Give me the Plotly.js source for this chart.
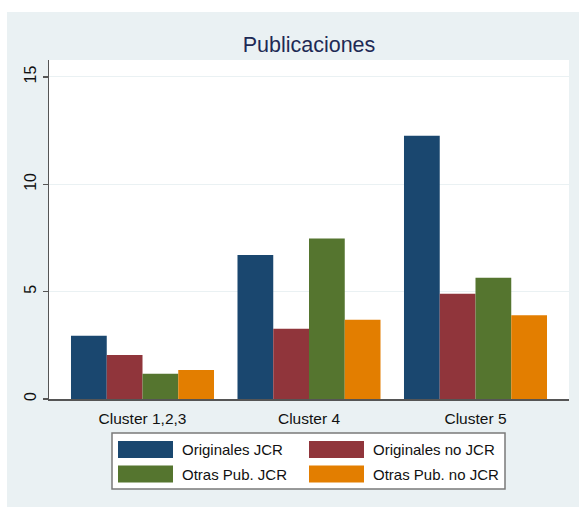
<!DOCTYPE html>
<html>
<head>
<meta charset="utf-8">
<script src="https://cdn.plot.ly/plotly-3.0.1.min.js"></script>
<style>html,body{margin:0;padding:0;background:#fff;overflow:hidden;}#chart{width:579px;height:507px;}</style>
</head>
<body>
<div id="chart"></div>
<script>
const categories = ['Cluster 1,2,3', 'Cluster 4', 'Cluster 5'];
const seriesNames = ['Originales JCR', 'Originales no JCR', 'Otras Pub. JCR', 'Otras Pub. no JCR'];
const originalesJCR = [2.95, 6.71, 12.26];
const originalesNoJCR = [2.05, 3.27, 4.9];
const otrasPubJCR = [1.18, 7.48, 5.65];
const otrasPubNoJCR = [1.35, 3.69, 3.9];
const yTicks = [0, 5, 10, 15];

const seriesValues = [originalesJCR, originalesNoJCR, otrasPubJCR, otrasPubNoJCR];
const colors = ['#1a476f', '#90353b', '#55752f', '#e37e00'];

const W = 579, H = 507;
const L = 49, R = 10, T = 60, B = 108;
const pw = W - L - R, ph = H - T - B;
const px = x => (x - L) / pw;
const py = y => (H - B - y) / ph;

const traces = seriesNames.map((n, i) => ({
  type: 'bar', name: n, x: categories, y: seriesValues[i],
  marker: {color: colors[i], line: {width: 0}},
  hoverinfo: 'x+y+name'
}));

const bg = '#eaf1f3';
const shapes = [
  {type: 'rect', xref: 'paper', yref: 'paper', x0: px(0), x1: px(W), y0: py(0), y1: py(12), fillcolor: '#ffffff', line: {width: 0}, layer: 'below'},
  {type: 'rect', xref: 'paper', yref: 'paper', x0: px(0), x1: px(7), y0: py(0), y1: py(H), fillcolor: '#ffffff', line: {width: 0}, layer: 'below'},
  {type: 'rect', xref: 'paper', yref: 'paper', x0: px(112), x1: px(505), y0: py(489), y1: py(433), fillcolor: '#ffffff', line: {width: 1.5, color: '#7a7a7a'}, layer: 'above'}
];
const annotations = [];
const swX = [118, 309], txtX = [180, 371], rowY = [449.5, 474];
seriesNames.forEach((n, i) => {
  const c = i % 2, r = Math.floor(i / 2);
  shapes.push({type: 'rect', xref: 'paper', yref: 'paper', x0: px(swX[c]), x1: px(swX[c] + 55), y0: py(rowY[r] + 8.5), y1: py(rowY[r] - 8.5), fillcolor: colors[i], line: {width: 0}, layer: 'above'});
  annotations.push({xref: 'paper', yref: 'paper', x: px(txtX[c]), y: py(rowY[r]), xanchor: 'left', yanchor: 'middle', text: n, showarrow: false, font: {family: 'Liberation Sans, Arial, sans-serif', size: 15, color: '#111'}});
});

const layout = {
  width: W, height: H,
  margin: {l: L, r: R, t: T, b: B, pad: 0},
  paper_bgcolor: bg, plot_bgcolor: '#ffffff',
  showlegend: false,
  barmode: 'group', bargap: 0.141, bargroupgap: 0,
  font: {family: 'Liberation Sans, Arial, sans-serif', size: 15, color: '#111'},
  title: {text: 'Publicaciones', x: 0.5, xref: 'paper', xanchor: 'center', y: 1 - 44 / H, yanchor: 'middle',
    font: {family: 'Liberation Sans, Arial, sans-serif', size: 21.5, color: '#1e2a55'}},
  xaxis: {type: 'category', range: [-0.5616, 2.5616], showgrid: false, showline: true, linecolor: '#555', linewidth: 1.5,
    ticks: '', ticklabelstandoff: 5, tickfont: {size: 15.5, color: '#111'}, fixedrange: true, zeroline: false},
  yaxis: {range: [0, 15.79], tickvals: yTicks, ticktext: yTicks.map(String), tickangle: -90,
    showgrid: true, gridcolor: '#eaf1f3', gridwidth: 1, zeroline: false,
    showline: true, linecolor: '#555', linewidth: 1.5, ticks: 'outside', ticklen: 5, tickcolor: '#555', tickwidth: 1.2,
    tickfont: {size: 16, color: '#111'}, fixedrange: true},
  shapes: shapes, annotations: annotations
};

Plotly.newPlot('chart', traces, layout, {displayModeBar: false, staticPlot: true});
</script>
</body>
</html>
